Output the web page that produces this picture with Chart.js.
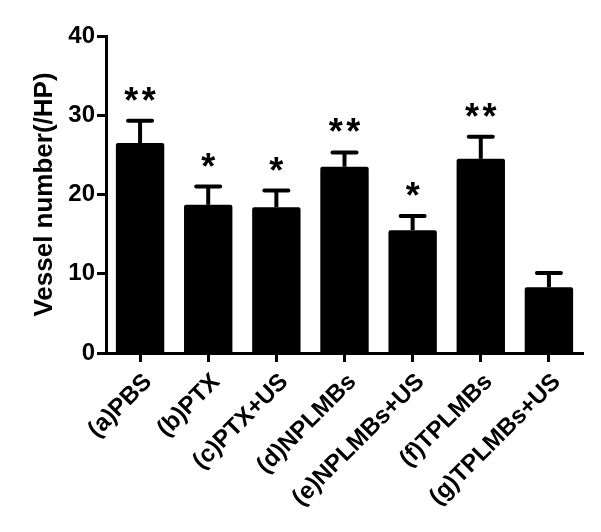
<!DOCTYPE html>
<html>
<head>
<meta charset="utf-8">
<script src="https://cdn.jsdelivr.net/npm/chart.js@4/dist/chart.umd.min.js"></script>
<style>
  html, body { margin: 0; padding: 0; background: #fff; }
  #wrap { width: 601px; height: 532px; position: relative; }
</style>
</head>
<body>
<div id="wrap"><canvas id="c" width="601" height="532"></canvas></div>
<script>
const categories = ["(a)PBS", "(b)PTX", "(c)PTX+US", "(d)NPLMBs", "(e)NPLMBs+US", "(f)TPLMBs", "(g)TPLMBs+US"];
const means = [26.5, 18.7, 18.4, 23.5, 15.5, 24.5, 8.3];
const errors = [2.8, 2.3, 2.1, 1.8, 1.8, 2.8, 1.8];
const significance = ["**", "*", "*", "**", "*", "**", ""];
const yTicks = [0, 10, 20, 30, 40];

const FONT = "'Liberation Sans', Arial, sans-serif";

const errorBarPlugin = {
  id: 'errorBars',
  afterDatasetsDraw(chart) {
    const ctx = chart.ctx;
    const meta = chart.getDatasetMeta(0);
    const yScale = chart.scales.y;
    ctx.save();
    ctx.strokeStyle = '#000';
    ctx.fillStyle = '#000';
    meta.data.forEach((bar, i) => {
      const x = bar.x;
      const yTop = yScale.getPixelForValue(means[i]);
      const yErr = yScale.getPixelForValue(means[i] + errors[i]);
      ctx.lineWidth = 4;
      ctx.lineCap = 'butt';
      ctx.beginPath();
      ctx.moveTo(x, yTop);
      ctx.lineTo(x, yErr);
      ctx.stroke();
      ctx.beginPath();
      ctx.lineCap = 'round';
      ctx.moveTo(x - 12, yErr);
      ctx.lineTo(x + 12, yErr);
      ctx.stroke();
      const sig = significance[i];
      if (sig) {
        ctx.font = "bold 36px " + FONT;
        ctx.textAlign = 'center';
        ctx.textBaseline = 'alphabetic';
        const n = sig.length;
        const spacing = 17.5;
        for (let k = 0; k < n; k++) {
          const sx = x + (k - (n - 1) / 2) * spacing;
          ctx.fillText('*', sx, yErr - 8);
        }
      }
    });
    ctx.restore();
  }
};

new Chart(document.getElementById('c'), {
  type: 'bar',
  data: {
    labels: categories,
    datasets: [{
      data: means,
      backgroundColor: '#000',
      borderColor: '#000',
      borderWidth: 0,
      borderRadius: 2,
      borderSkipped: 'bottom',
      categoryPercentage: 1.0,
      barPercentage: 0.71
    }]
  },
  options: {
    responsive: false,
    animation: false,
    devicePixelRatio: 1,
    layout: { padding: { top: 36, right: 18, left: 0, bottom: 0 } },
    plugins: { legend: { display: false }, tooltip: { enabled: false } },
    scales: {
      x: {
        offset: true,
        grid: { display: true, drawOnChartArea: false, drawTicks: true, offset: false, tickLength: 9, tickWidth: 3, tickColor: '#000' },
        border: { display: true, color: '#000', width: 3 },
        ticks: {
          color: '#000',
          font: { family: FONT, size: 24, weight: 'bold' },
          minRotation: 45, maxRotation: 45,
          padding: 6,
          labelOffset: 8,
          autoSkip: false
        },
        afterFit(scale) { scale.height = 532 - 353; }
      },
      y: {
        min: 0, max: 40,
        afterBuildTicks(scale) { scale.ticks = yTicks.map(v => ({ value: v })); },
        grid: { display: true, drawOnChartArea: false, drawTicks: true, tickLength: 9, tickWidth: 3, tickColor: '#000' },
        border: { display: true, color: '#000', width: 3 },
        ticks: {
          color: '#000',
          font: { family: FONT, size: 24, weight: 'bold' },
          padding: 2
        },
        title: {
          display: true,
          text: 'Vessel number(/HP)',
          color: '#000',
          font: { family: FONT, size: 26, weight: 'bold' },
          padding: { top: 29, bottom: 0 }
        },
        afterFit(scale) { scale.width = 106; }
      }
    }
  },
  plugins: [errorBarPlugin]
});
</script>
</body>
</html>
